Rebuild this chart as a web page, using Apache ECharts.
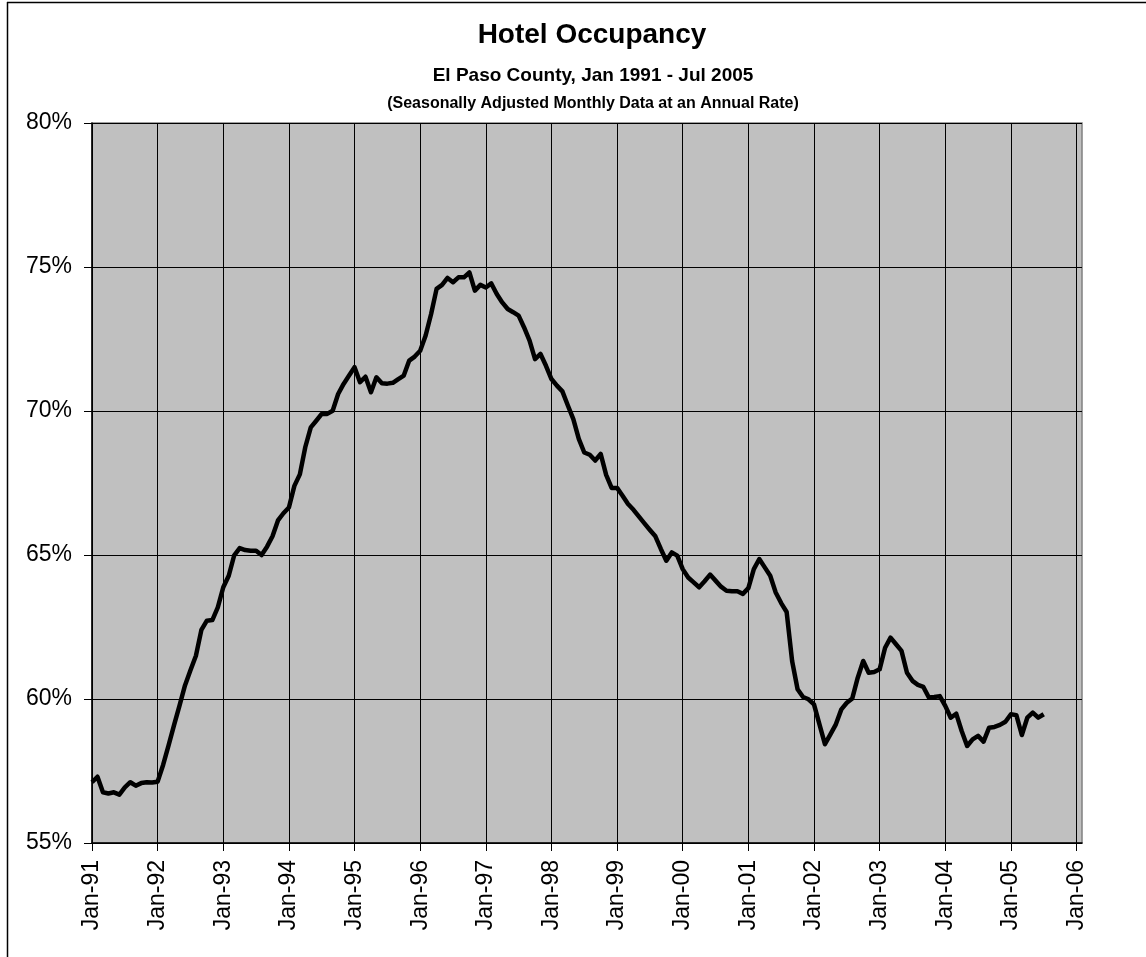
<!DOCTYPE html>
<html>
<head>
    <meta charset="utf-8">
    <title>Hotel Occupancy</title>
    <script src="https://cdn.jsdelivr.net/npm/echarts@6/dist/echarts.min.js"></script>
    <style>
        html, body { margin: 0; padding: 0; background: #fff; }
        #main { width: 1146px; height: 957px; }
    </style>
</head>
<body>
    <div id="main"></div>
    <script type="text/javascript">
        // monthly occupancy rate (%), seasonally adjusted, one array per year
        var occ1991 = [57.11, 57.30, 56.76, 56.72, 56.76, 56.68, 56.93, 57.11, 56.99, 57.08, 57.11, 57.10];
        var occ1992 = [57.13, 57.71, 58.39, 59.09, 59.77, 60.47, 61.00, 61.50, 62.40, 62.72, 62.74, 63.18];
        var occ1993 = [63.88, 64.28, 64.99, 65.24, 65.17, 65.15, 65.15, 65.00, 65.29, 65.65, 66.20, 66.45];
        var occ1994 = [66.65, 67.40, 67.80, 68.75, 69.43, 69.66, 69.90, 69.90, 70.01, 70.59, 70.94, 71.23];
        var occ1995 = [71.52, 71.00, 71.19, 70.65, 71.17, 70.96, 70.95, 70.98, 71.11, 71.23, 71.75, 71.89];
        var occ1996 = [72.09, 72.62, 73.37, 74.24, 74.38, 74.62, 74.47, 74.64, 74.64, 74.81, 74.18, 74.38];
        var occ1997 = [74.29, 74.43, 74.06, 73.77, 73.54, 73.43, 73.31, 72.90, 72.44, 71.80, 71.98, 71.57];
        var occ1998 = [71.11, 70.88, 70.68, 70.19, 69.72, 69.03, 68.56, 68.48, 68.28, 68.51, 67.78, 67.33];
        var occ1999 = [67.33, 67.06, 66.77, 66.57, 66.33, 66.10, 65.87, 65.65, 65.21, 64.80, 65.09, 64.98];
        var occ2000 = [64.51, 64.22, 64.05, 63.88, 64.09, 64.32, 64.11, 63.90, 63.76, 63.74, 63.74, 63.65];
        var occ2001 = [63.85, 64.51, 64.86, 64.57, 64.28, 63.70, 63.33, 63.02, 61.32, 60.34, 60.07, 59.99];
        var occ2002 = [59.81, 59.12, 58.43, 58.77, 59.12, 59.64, 59.87, 60.02, 60.74, 61.32, 60.91, 60.94];
        var occ2003 = [61.03, 61.78, 62.13, 61.90, 61.67, 60.91, 60.63, 60.49, 60.42, 60.05, 60.07, 60.10];
        var occ2004 = [59.76, 59.35, 59.49, 58.89, 58.37, 58.60, 58.72, 58.52, 59.00, 59.03, 59.10, 59.21];
        var occ2005 = [59.47, 59.44, 58.75, 59.35, 59.53, 59.35, 59.47];

        var monthNames = ['Jan', 'Feb', 'Mar', 'Apr', 'May', 'Jun', 'Jul', 'Aug', 'Sep', 'Oct', 'Nov', 'Dec'];
        var firstYear = 1991;
        var axisMonths = 182; // Jan-91 .. Feb-06, the axis runs one month past Jan-06

        var occupancy = [].concat(occ1991, occ1992, occ1993, occ1994, occ1995, occ1996, occ1997,
            occ1998, occ1999, occ2000, occ2001, occ2002, occ2003, occ2004, occ2005);

        var months = [];
        for (var i = 0; i < axisMonths; i++) {
            var yy = (firstYear + Math.floor(i / 12)) % 100;
            months.push(monthNames[i % 12] + '-' + (yy < 10 ? '0' + yy : yy));
        }

        var myChart = echarts.init(document.getElementById('main'), null, { renderer: 'canvas' });

        var font = 'Liberation Sans, Arial, Helvetica, sans-serif';

        var option = {
            backgroundColor: '#ffffff',
            animation: false,
            textStyle: { fontFamily: font },
            graphic: [
                // chart frame (only the left and top edges show)
                { type: 'line', shape: { x1: 7.5, y1: 2, x2: 7.5, y2: 957 }, style: { stroke: '#000', lineWidth: 1.5 } },
                { type: 'line', shape: { x1: 7, y1: 2.5, x2: 1146, y2: 2.5 }, style: { stroke: '#000', lineWidth: 1.5 } },
                {
                    type: 'text', x: 592, y: 35,
                    style: { text: 'Hotel Occupancy', font: 'bold 28px ' + font, fill: '#000', align: 'center', verticalAlign: 'middle' }
                },
                {
                    type: 'text', x: 593, y: 76,
                    style: { text: 'El Paso County, Jan 1991 - Jul 2005', font: 'bold 19px ' + font, fill: '#000', align: 'center', verticalAlign: 'middle' }
                },
                {
                    type: 'text', x: 593, y: 104,
                    style: { text: '(Seasonally Adjusted Monthly Data at an Annual Rate)', font: 'bold 16px ' + font, fill: '#000', align: 'center', verticalAlign: 'middle' }
                }
            ],
            grid: {
                left: 92,
                top: 123,
                right: 64,
                bottom: 114,
                show: true,
                backgroundColor: '#c0c0c0',
                borderColor: '#808080',
                borderWidth: 1.5
            },
            xAxis: {
                type: 'category',
                data: months,
                boundaryGap: false,
                axisLine: { lineStyle: { color: '#000', width: 1.5 } },
                axisTick: { interval: 11, length: 8, lineStyle: { color: '#000', width: 1 } },
                axisLabel: {
                    interval: 11,
                    rotate: 90,
                    margin: 17,
                    color: '#000',
                    fontSize: 23,
                    fontFamily: font
                },
                splitLine: { show: true, interval: 11, lineStyle: { color: '#000', width: 1 } }
            },
            yAxis: {
                type: 'value',
                min: 55,
                max: 80,
                interval: 5,
                axisLine: { show: true, lineStyle: { color: '#000', width: 1.5 } },
                axisTick: { show: true, length: 8, lineStyle: { color: '#000', width: 1 } },
                axisLabel: {
                    formatter: '{value}%',
                    margin: 20,
                    color: '#000',
                    fontSize: 23,
                    fontFamily: font
                },
                splitLine: { show: true, lineStyle: { color: '#000', width: 1 } }
            },
            series: [{
                name: 'Hotel Occupancy',
                type: 'line',
                data: occupancy,
                showSymbol: false,
                symbol: 'none',
                lineStyle: { color: '#000', width: 4.5, join: 'round' },
                z: 5
            }]
        };

        myChart.setOption(option);
    </script>
</body>
</html>
